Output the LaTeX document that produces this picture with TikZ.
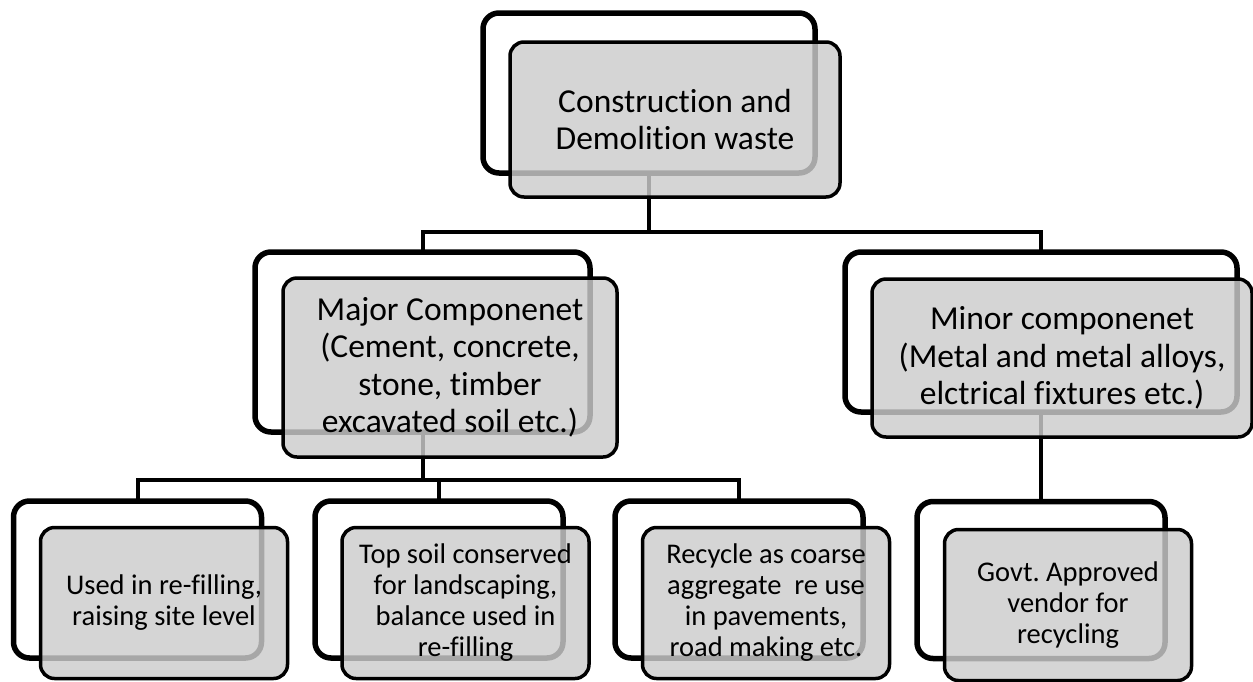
\documentclass[tikz,border=0pt]{standalone}
\usepackage{fontspec}
\setmainfont{Carlito}[Ligatures=NoCommon]
\definecolor{boxgray}{HTML}{CCCCCC}
\begin{document}
\frenchspacing
\begin{tikzpicture}[x=1pt,y=-1pt,
  backbox/.style={draw, line width=5.5pt, rounded corners=16pt, fill=white,
    inner sep=0pt, outer sep=0pt},
  frontbox/.style={draw, line width=3.5pt, rounded corners=14pt, fill=boxgray,
    fill opacity=0.82, text opacity=1, draw opacity=1,
    inner sep=0pt, outer sep=0pt, align=center},
  bigtext/.style={font=\fontsize{33.5}{37.5}\selectfont},
  smalltext/.style={font=\fontsize{28.5}{31}\selectfont},
  conn/.style={draw, line width=4pt, line join=miter}]
\useasboundingbox (0,0) rectangle (1253,681);

% back boxes
\node[backbox, minimum width=332pt, minimum height=160pt] (topb) at (649,93) {};
\node[backbox, minimum width=335pt, minimum height=180pt] (majb) at (422.5,342) {};
\node[backbox, minimum width=392pt, minimum height=160pt] (minb) at (1041,332) {};
\node[backbox, minimum width=248pt, minimum height=157pt] (b1b) at (137.5,579.5) {};
\node[backbox, minimum width=248pt, minimum height=157pt] (b2b) at (439,579.5) {};
\node[backbox, minimum width=248pt, minimum height=157pt] (b3b) at (739,579.5) {};
\node[backbox, minimum width=248pt, minimum height=157pt] (b4b) at (1041,580) {};

% connectors
\coordinate (bus1) at (649,232);
\coordinate (bus2) at (422.5,480);
\path[conn] (topb.south) -- (bus1) -| (majb.north);
\path[conn] (bus1) -| (minb.north);
\path[conn] (majb.south) -- (bus2) -| (b1b.north);
\path[conn] (bus2) -| (b2b.north);
\path[conn] (bus2) -| (b3b.north);
\path[conn] (minb.south) -- (b4b.north);

% front boxes
\node[frontbox, bigtext, minimum width=330pt, minimum height=155pt] (topf) at (675,119.5)
  {Construction and\\Demolition waste};
\node[frontbox, bigtext, minimum width=334pt, minimum height=179pt] (majf) at (450,367.5)
  {Major Componenet\\(Cement, concrete,\\stone, timber\\excavated soil etc.)};
\node[frontbox, bigtext, minimum width=380pt, minimum height=158pt] (minf) at (1062,358)
  {Minor componenet\\(Metal and metal alloys,\\elctrical fixtures etc.)};
\node[frontbox, smalltext, minimum width=247pt, minimum height=151pt] (b1f) at (164,603)
  {Used in re-filling,\\raising site level};
\node[frontbox, smalltext, minimum width=247pt, minimum height=151pt] (b2f) at (465.5,603)
  {Top soil conserved\\for landscaping,\\balance used in\\re-filling};
\node[frontbox, smalltext, minimum width=247pt, minimum height=151pt] (b3f) at (766,603)
  {Recycle as coarse\\aggregate~ re use\\in pavements,\\road making etc.};
\node[frontbox, smalltext, minimum width=247pt, minimum height=151pt] (b4f) at (1068,605)
  {Govt. Approved\\vendor for\\recycling};
\end{tikzpicture}
\end{document}
